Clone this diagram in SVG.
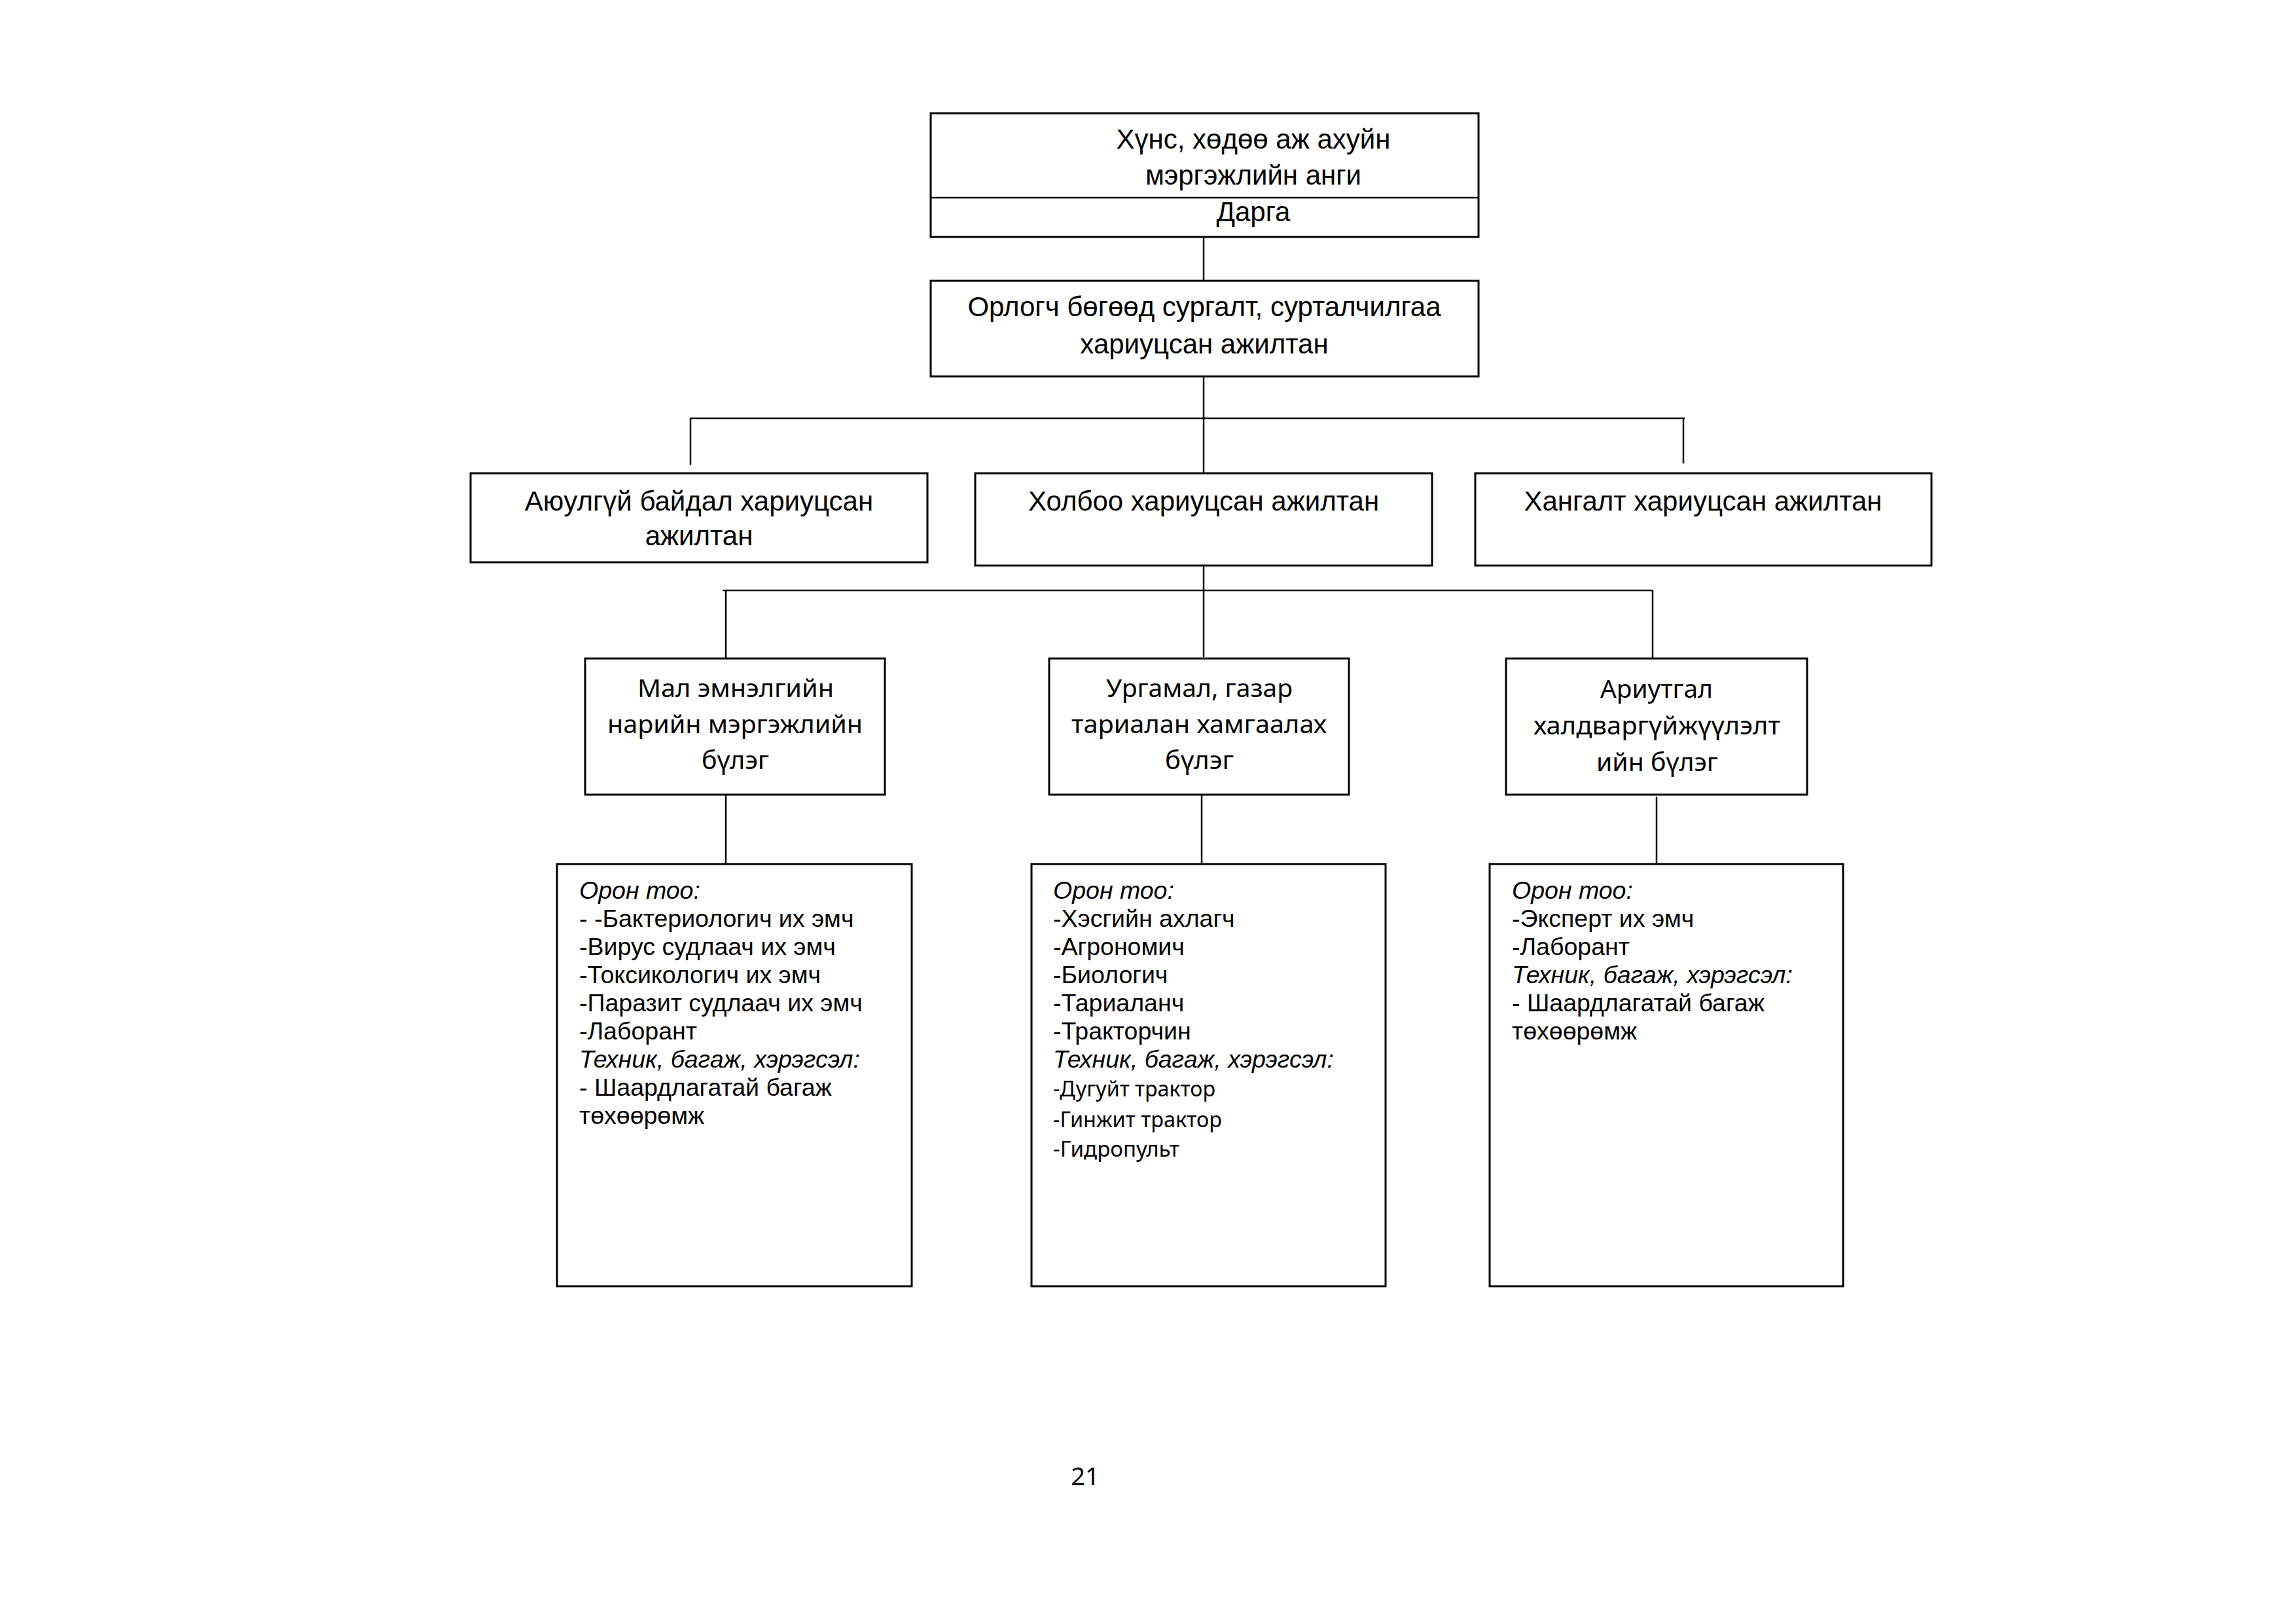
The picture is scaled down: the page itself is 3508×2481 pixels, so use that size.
<svg xmlns="http://www.w3.org/2000/svg" width="3508" height="2481" viewBox="0 0 3508 2481">
<style>
.box{fill:#fff;stroke:#000;stroke-width:3}
.ln{fill:none;stroke:#000;stroke-width:2.5}
.a{font-family:"Liberation Sans",Arial,sans-serif;font-size:42px;fill:#000;text-anchor:middle}
.c{font-family:"Noto Sans","Open Sans",sans-serif;font-size:39px;fill:#000}
.l{font-family:"Liberation Sans",Arial,sans-serif;font-size:37.5px;fill:#000}
.i{font-style:italic}
.s{font-family:"Noto Sans","Open Sans",sans-serif;font-size:32px;fill:#000}
</style>
<rect x="0" y="0" width="3508" height="2481" fill="#fff"/>
<g id="connectors">
<line class="ln" x1="1839" y1="362" x2="1839" y2="429"/>
<line class="ln" x1="1839" y1="575" x2="1839" y2="723"/>
<line class="ln" x1="1055" y1="639" x2="2574" y2="639"/>
<line class="ln" x1="1055" y1="639" x2="1055" y2="710"/>
<line class="ln" x1="2572" y1="639" x2="2572" y2="708"/>
<line class="ln" x1="1839" y1="864" x2="1839" y2="1004"/>
<line class="ln" x1="1104" y1="902" x2="2525" y2="902"/>
<line class="ln" x1="1109" y1="902" x2="1109" y2="1006"/>
<line class="ln" x1="2525" y1="902" x2="2525" y2="1005"/>
<line class="ln" x1="1109" y1="1214" x2="1109" y2="1320"/>
<line class="ln" x1="1836" y1="1214" x2="1836" y2="1320"/>
<line class="ln" x1="2531" y1="1217" x2="2531" y2="1320"/>
</g>
<g id="n-head">
<rect class="box" x="1422" y="173" width="837" height="189"/>
<line class="ln" x1="1422" y1="302" x2="2259" y2="302"/>
<text class="a" x="1915" y="227">Хүнс, хөдөө аж ахуйн</text>
<text class="a" x="1915" y="282">мэргэжлийн анги</text>
<text class="a" x="1915" y="338">Дарга</text>
</g>
<g id="n-deputy">
<rect class="box" x="1422" y="429" width="837" height="146"/>
<text class="a" x="1840" y="483">Орлогч бөгөөд сургалт, сурталчилгаа</text>
<text class="a" x="1840" y="540">хариуцсан ажилтан</text>
</g>
<g id="n-safety">
<rect class="box" x="719" y="723" width="698" height="136"/>
<text class="a" x="1068" y="780">Аюулгүй байдал хариуцсан</text>
<text class="a" x="1068" y="833">ажилтан</text>
</g>
<g id="n-comm">
<rect class="box" x="1490" y="723" width="698" height="141"/>
<text class="a" x="1839" y="780">Холбоо хариуцсан ажилтан</text>
</g>
<g id="n-supply">
<rect class="box" x="2254" y="723" width="697" height="141"/>
<text class="a" x="2602" y="780">Хангалт хариуцсан ажилтан</text>
</g>
<g id="n-vet">
<rect class="box" x="894" y="1006" width="458" height="208"/>
<text class="c" x="974" y="1065" textLength="300" lengthAdjust="spacingAndGlyphs">Мал эмнэлгийн</text>
<text class="c" x="928" y="1120" textLength="390" lengthAdjust="spacingAndGlyphs">нарийн мэргэжлийн</text>
<text class="c" x="1072" y="1175" textLength="103" lengthAdjust="spacingAndGlyphs">бүлэг</text>
</g>
<g id="n-plant">
<rect class="box" x="1603" y="1006" width="458" height="208"/>
<text class="c" x="1690" y="1065" textLength="285" lengthAdjust="spacingAndGlyphs">Ургамал, газар</text>
<text class="c" x="1637" y="1120" textLength="390" lengthAdjust="spacingAndGlyphs">тариалан хамгаалах</text>
<text class="c" x="1780" y="1175" textLength="105" lengthAdjust="spacingAndGlyphs">бүлэг</text>
</g>
<g id="n-disinf">
<rect class="box" x="2301" y="1006" width="460" height="208"/>
<text class="c" x="2445" y="1066" textLength="172" lengthAdjust="spacingAndGlyphs">Ариутгал</text>
<text class="c" x="2343" y="1122" textLength="377" lengthAdjust="spacingAndGlyphs">халдваргүйжүүлэлт</text>
<text class="c" x="2439" y="1178" textLength="186" lengthAdjust="spacingAndGlyphs">ийн бүлэг</text>
</g>
<g id="n-vet-staff">
<rect class="box" x="851" y="1320" width="542" height="645"/>
<text class="l i" x="885" y="1373">Орон тоо:</text>
<text class="l" x="885" y="1416">- -Бактериологич их эмч</text>
<text class="l" x="885" y="1459">-Вирус судлаач их эмч</text>
<text class="l" x="885" y="1502">-Токсикологич их эмч</text>
<text class="l" x="885" y="1545">-Паразит судлаач их эмч</text>
<text class="l" x="885" y="1588">-Лаборант</text>
<text class="l i" x="885" y="1631">Техник, багаж, хэрэгсэл:</text>
<text class="l" x="885" y="1674">- Шаардлагатай багаж</text>
<text class="l" x="885" y="1717">төхөөрөмж</text>
</g>
<g id="n-plant-staff">
<rect class="box" x="1576" y="1320" width="541" height="645"/>
<text class="l i" x="1609" y="1373">Орон тоо:</text>
<text class="l" x="1609" y="1416">-Хэсгийн ахлагч</text>
<text class="l" x="1609" y="1459">-Агрономич</text>
<text class="l" x="1609" y="1502">-Биологич</text>
<text class="l" x="1609" y="1545">-Тариаланч</text>
<text class="l" x="1609" y="1588">-Тракторчин</text>
<text class="l i" x="1609" y="1631">Техник, багаж, хэрэгсэл:</text>
<text class="s" x="1609" y="1675" textLength="248" lengthAdjust="spacingAndGlyphs">-Дугуйт трактор</text>
<text class="s" x="1609" y="1722" textLength="258" lengthAdjust="spacingAndGlyphs">-Гинжит трактор</text>
<text class="s" x="1609" y="1767" textLength="193" lengthAdjust="spacingAndGlyphs">-Гидропульт</text>
</g>
<g id="n-disinf-staff">
<rect class="box" x="2276" y="1320" width="540" height="645"/>
<text class="l i" x="2310" y="1373">Орон тоо:</text>
<text class="l" x="2310" y="1416">-Эксперт их эмч</text>
<text class="l" x="2310" y="1459">-Лаборант</text>
<text class="l i" x="2310" y="1502">Техник, багаж, хэрэгсэл:</text>
<text class="l" x="2310" y="1545">- Шаардлагатай багаж</text>
<text class="l" x="2310" y="1588">төхөөрөмж</text>
</g>
<text x="1658" y="2269" font-family="Noto Sans, Open Sans, sans-serif" font-size="38" text-anchor="middle" fill="#000">21</text>
</svg>
